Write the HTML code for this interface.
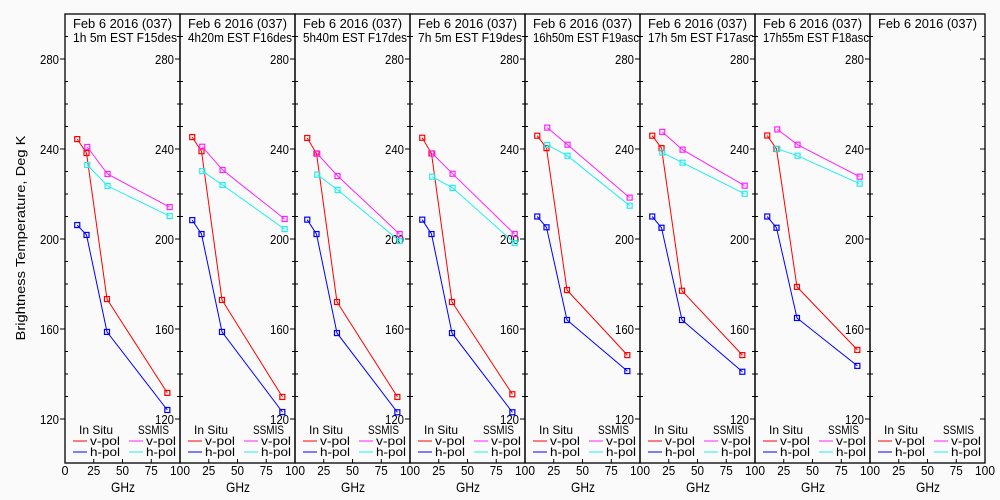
<!DOCTYPE html>
<html><head><meta charset="utf-8"><style>
html,body{margin:0;padding:0;background:#fafafa;}
svg{display:block;font-family:"Liberation Sans","DejaVu Sans",sans-serif;}
</style></head><body>
<svg id="c" width="1000" height="500" xmlns="http://www.w3.org/2000/svg">
<rect width="1000" height="500" fill="#fafafa"/>
<text transform="translate(25,238) rotate(-90)" text-anchor="middle" font-size="13" textLength="205" lengthAdjust="spacingAndGlyphs" fill="#000">Brightness Temperature, Deg K</text>
<g id="g"></g>
</svg>
<script>
const panelTitles1 = ["Feb 6 2016 (037)","Feb 6 2016 (037)","Feb 6 2016 (037)","Feb 6 2016 (037)","Feb 6 2016 (037)","Feb 6 2016 (037)","Feb 6 2016 (037)","Feb 6 2016 (037)"];
const panelTitles2 = ["1h 5m EST F15des","4h20m EST F16des","5h40m EST F17des","7h 5m EST F19des","16h50m EST F19asc","17h 5m EST F17asc","17h55m EST F18asc",""];
const insituFreq = [10.65,18.7,36.5,89];
const ssmisFreq = [19.35,37,91];
const insituV = [[244.4,238.2,173.3,131.6],[245.3,239,172.9,129.8],[244.9,238,172,129.8],[245,238,172,131],[245.9,240.4,177.3,148.4],[245.9,240.4,177,148.4],[246,240,178.7,150.7],[]];
const insituH = [[206.2,201.8,158.7,124],[208.4,202.2,158.7,123.1],[208.6,202.2,158.2,123],[208.6,202.2,158.2,123],[210,205.2,164,141.3],[210,205,164,141],[210,205,164.9,143.6],[]];
const ssmisV = [[240.9,228.9,214.2],[241,230.7,208.9],[237.9,228,202.2],[238,229,202.2],[249.5,241.9,218.4],[247.6,239.7,223.7],[248.7,241.9,227.7],[]];
const ssmisH = [[232.9,223.6,210.2],[230.2,224,204.4],[228.6,221.8,199.1],[227.7,222.7,198.2],[241.8,237,214.8],[238.4,233.9,220.1],[240.1,237,224.6],[]];
const yTicks = [120,160,200,240,280];
const xTicks = [0,25,50,75,100];

const NS="http://www.w3.org/2000/svg";
const g=document.getElementById('g');
const top0=14, bot=463, W=115, L0=65;
const yS=v=>59+(280-v)*2.25;
const xS=(p,f)=>L0+p*W+f*1.15;
function mk(t,a,parent){const e=document.createElementNS(NS,t);for(const k in a)e.setAttribute(k,a[k]);(parent||g).appendChild(e);return e;}
function txt(x,y,s,anchor,size,len,parent){const a={x:x,y:y,'text-anchor':anchor||'start','font-size':size||12,fill:'#000'};if(len){a.textLength=len;a.lengthAdjust='spacingAndGlyphs';}const e=mk('text',a,parent);e.textContent=s;return e;}
const colors={iv:'#ff0000',ih:'#0000ff',sv:'#ff22ff',sh:'#22eeee'};
for(let p=0;p<8;p++){
  const L=L0+p*W, R=L+W;
  const pg=mk('g',{});
  
  
  const fr=mk('rect',{x:L,y:top0,width:W,height:bot-top0,fill:'none',stroke:'#000','stroke-width':1.3},pg);
  
  
  const t1=txt(L+8,28,panelTitles1[p],'start',13,99,pg);
  
  
  if(panelTitles2[p]){
    const t2=txt(L+8,42,panelTitles2[p],'start',13,panelTitles2[p].length>16?106:104,pg);
    
    
  }
  for(let v=120;v<=290;v+=10){
    const y=yS(v); if(y<top0) continue;
    if(v%40===0){mk('line',{x1:L-5,x2:L,y1:y,y2:y,stroke:'#000'},pg);mk('line',{x1:R-5,x2:R,y1:y,y2:y,stroke:'#000'},pg);}
    else{mk('line',{x1:L,x2:L+3,y1:y,y2:y,stroke:'#000'},pg);mk('line',{x1:R-3,x2:R,y1:y,y2:y,stroke:'#000'},pg);}
  }
  if(p<7){
    yTicks.forEach(v=>{const e=txt(R-6,yS(v)+5,String(v),'end',13,19,pg);
      
      });
  }
  if(p===0){
    yTicks.forEach(v=>{const e=txt(L-6,yS(v)+5,String(v),'end',13,19,pg);
      
      });
  }
  xTicks.forEach(f=>{
    const x=xS(p,f);
    if(f>0&&f<100) mk('line',{x1:x,x2:x,y1:bot,y2:bot-4,stroke:'#000'},pg);
    if(f===0&&p>0) return;
    const e=txt(x,475,String(f),'middle',13,f===0?7:(f===100?20:13),pg);
    
    
  });
  const xl=txt(L+58,492,'GHz','middle',14,24,pg);
  
  
  const lg=mk('g',{},pg);
  
  
  const a=[['In Situ',L+14,434,34],['SSMIS',L+73,434,31],['v-pol',L+25,445,30],['h-pol',L+25,456,30],['v-pol',L+81,445,30],['h-pol',L+81,456,30]];
  a.forEach(([s,x,y,w])=>txt(x,y,s,'start',12,w,lg));
  [[colors.iv,L+8,441],[colors.ih,L+8,452],[colors.sv,L+64,441],[colors.sh,L+64,452]].forEach(([c,x,y])=>mk('line',{x1:x,x2:x+14,y1:y,y2:y,stroke:c},lg));
  const series=[[insituV[p],insituFreq,colors.iv,'insitu-v-pol'],[insituH[p],insituFreq,colors.ih,'insitu-h-pol'],[ssmisV[p],ssmisFreq,colors.sv,'ssmis-v-pol'],[ssmisH[p],ssmisFreq,colors.sh,'ssmis-h-pol']];
  series.forEach(([vals,fr,c,nm])=>{
    if(!vals.length) return;
    const pts=vals.map((v,i)=>xS(p,fr[i]).toFixed(1)+','+yS(v).toFixed(1)).join(' ');
    const pl=mk('polyline',{points:pts,fill:'none',stroke:c,'stroke-width':1},pg);
    
    
    vals.forEach((v,i)=>{
      const m=mk('rect',{x:xS(p,fr[i])-2.5,y:yS(v)-2.5,width:5,height:5,fill:'none',stroke:c,'stroke-width':1.2},pg);
      
      
    });
  });
}
</script>
</body></html>
